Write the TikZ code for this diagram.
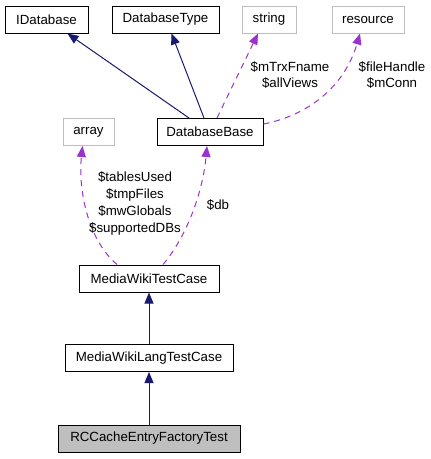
\documentclass[tikz,border=0pt]{standalone}
\usepackage{fontspec}
\setmainfont{Liberation Sans}
\usepackage{xcolor}
\definecolor{cNavy}{HTML}{191970}
\definecolor{cOrchid}{HTML}{9A32CD}
\definecolor{cLight}{HTML}{BFBFBF}
\usetikzlibrary{positioning,arrows.meta,calc}
\tikzset{
  node-class/.style={draw=black,line width=1pt,minimum height=27pt,
    inner sep=0pt,align=center,font=\fontsize{13.3}{16}\selectfont},
  node-ext/.style={node-class,draw=cLight},
  node-self/.style={fill=cLight},
  edge-label/.style={align=center,inner sep=0pt,
    font=\fontsize{13.3}{16.8}\selectfont},
  arrow-inherit/.style={-{Triangle[length=11pt,width=9pt]},line width=1pt,draw=cNavy},
  arrow-member/.style={-{Triangle[length=11pt,width=9pt]},line width=1pt,
    draw=cOrchid,dash pattern=on 6pt off 5pt},
}
\begin{document}
\begin{tikzpicture}[x=1pt,y=-1pt]
  \useasboundingbox (0,0) rectangle (431,459);
  % top row
  \node[node-class,minimum width=83pt] (idb) at (46.5,19.5) {IDatabase};
  \node[node-class,minimum width=107pt] (dbtype) at (165.5,19.5) {DatabaseType};
  \node[node-ext,minimum width=54pt] (string) at (269,19.5) {string};
  \node[node-ext,minimum width=72pt] (resource) at (368,19.5) {resource};
  % second row
  \node[node-ext,minimum width=51pt] (array) at (88.5,132) {array};
  \node[node-class,minimum width=106pt] (base) at (210,132) {DatabaseBase};
  % test classes
  \node[node-class,minimum width=140pt] (mwtc) at (149,278.5) {MediaWikiTestCase};
  \node[node-class,minimum width=168pt] (mwltc) at (149,358) {MediaWikiLangTestCase};
  \node[node-class,node-self,minimum width=182pt] (rccache) at (149,438.5) {RCCacheEntryFactoryTest};
  % inheritance
  \draw[arrow-inherit] ([xshift=-21pt]base.north) -- ([xshift=21pt]idb.south);
  \draw[arrow-inherit] ([xshift=-6pt]base.north) -- ([xshift=6pt]dbtype.south);
  \draw[arrow-inherit] (mwltc) -- (mwtc);
  \draw[arrow-inherit] (rccache) -- (mwltc);
  % members
  \draw[arrow-member] ([xshift=7pt]base.north) -- ([xshift=-11pt]string.south);
  \draw[arrow-member] ([yshift=8pt]base.east) .. controls (310,115) and (345,85) .. ([xshift=-8pt]resource.south);
  \draw[arrow-member] ([xshift=-32pt]mwtc.north) .. controls (88,240) and (78,190) .. ([xshift=-6pt]array.south);
  \draw[arrow-member] ([xshift=14pt]mwtc.north) .. controls (188,235) and (203,190) .. ([xshift=-3pt]base.south);
  % labels
  \node[edge-label] (lbl-string) at (290,75) {\$mTrxFname\\\$allViews};
  \node[edge-label] (lbl-resource) at (392,75) {\$fileHandle\\\$mConn};
  \node[edge-label] (lbl-array) at (135,203.5) {\$tablesUsed\\\$tmpFiles\\\$mwGlobals\\\$supportedDBs};
  \node[edge-label] (lbl-db) at (218,205) {\$db};
\end{tikzpicture}
\end{document}
